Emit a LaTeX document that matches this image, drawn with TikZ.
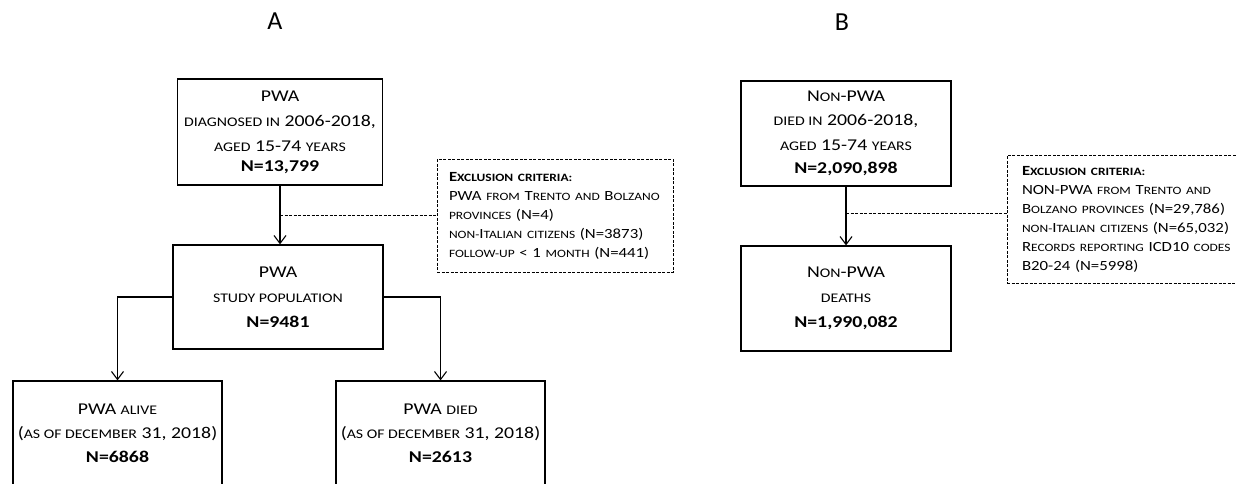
\documentclass[tikz,border=0pt]{standalone}
\usepackage{fontspec}
\setmainfont{Carlito}
\newfontfamily\wide{Carlito}[FakeStretch=1.2]
\usetikzlibrary{arrows.meta,calc}
\newcommand{\lc}[1]{{\fontsize{13.2}{25}\selectfont #1}}
\newcommand{\lx}[1]{{\fontsize{11.2}{19}\selectfont #1}}

\begin{document}
\begin{tikzpicture}[x=1pt,y=-1pt,
  flowbox/.style={draw,line width=1.2pt,align=center,inner sep=0pt,font=\wide\fontsize{16.5}{25}\selectfont},
  exclbox/.style={draw,line width=1pt,dash pattern=on 3pt off 1.5pt,align=left,inner xsep=12pt,inner ysep=0pt,font=\wide\fontsize{14}{19}\selectfont},
  panel/.style={font=\fontsize{26}{26}\selectfont},
  link/.style={line width=1.1pt,-{Straight Barb[length=8pt,width=12pt]}},
  jump/.style={line width=1pt,dash pattern=on 3pt off 1.5pt}]
\useasboundingbox (0,0) rectangle (1236,483);
% panel A
\node[panel] (pa) at (275,21) {A};
\node[flowbox,minimum width=205pt,minimum height=106pt] (a1) at (280,132) {PWA\\ \lc{DIAGNOSED IN} 2006-2018,\\ \lc{AGED} 15-74 \lc{YEARS}\\[-5pt] \textbf{N=13,799}};
\node[flowbox,minimum width=210pt,minimum height=104pt] (a2) at (278,297) {PWA\\ \lc{STUDY POPULATION}\\ \textbf{N=9481}};
\node[flowbox,minimum width=209pt,minimum height=104pt] (a3) at (117.5,433) {PWA \lc{ALIVE}\\[-1pt] (\lc{AS OF DECEMBER} 31, 2018)\\[-1pt] \textbf{N=6868}};
\node[flowbox,minimum width=209pt,minimum height=104pt] (a4) at (440.5,433) {PWA \lc{DIED}\\[-1pt] (\lc{AS OF DECEMBER} 31, 2018)\\[-1pt] \textbf{N=2613}};
\node[exclbox,text width=212pt,minimum height=113pt] (xa) at (555,215.5) {\textbf{E\lx{XCLUSION CRITERIA:}}\\
PWA \lx{FROM} T\lx{RENTO AND} B\lx{OLZANO}\\
\lx{PROVINCES} (N=4)\\
\lx{NON-}I\lx{TALIAN CITIZENS} (N=3873)\\
\lx{FOLLOW-UP} < 1 \lx{MONTH} (N=441)};
% panel B
\node[panel] (pb) at (842,22) {B};
\node[flowbox,minimum width=210pt,minimum height=105pt] (b1) at (846,133.5) {N\lc{ON}-PWA\\[-1pt] \lc{DIED IN} 2006-2018,\\ \lc{AGED} 15-74 \lc{YEARS}\\[-2pt] \textbf{N=2,090,898}};
\node[flowbox,minimum width=210pt,minimum height=105pt] (b2) at (846,298.5) {N\lc{ON}-PWA\\ \lc{DEATHS}\\ \textbf{N=1,990,082}};
\node[exclbox,inner xsep=15pt,text width=225pt,minimum height=128pt] (xb) at (1134.5,219) {\textbf{E\lx{XCLUSION CRITERIA:}}\\
NON-PWA \lx{FROM} T\lx{RENTO AND}\\
B\lx{OLZANO PROVINCES} (N=29,786)\\
\lx{NON-}I\lx{TALIAN CITIZENS} (N=65,032)\\
R\lx{ECORDS REPORTING} ICD10 \lx{CODES}\\
B20-24 (N=5998)};
% connectors
\path[draw,link] (a1.south) -- (a1.south |- a2.north);
\path[draw,link] (a2.west) -| (a3.north);
\path[draw,link] (a2.east) -| (a4.north);
\path[draw,link] (b1.south) -- (b2.north);
\coordinate (ja) at ($(a1.south)!0.5!(a1.south |- a2.north)$);
\coordinate (jb) at ($(b1.south)!0.45!(b2.north)$);
\path[draw,jump] (ja) -- (ja -| xa.west);
\path[draw,jump] (jb) -- (jb -| xb.west);
\end{tikzpicture}
\end{document}
